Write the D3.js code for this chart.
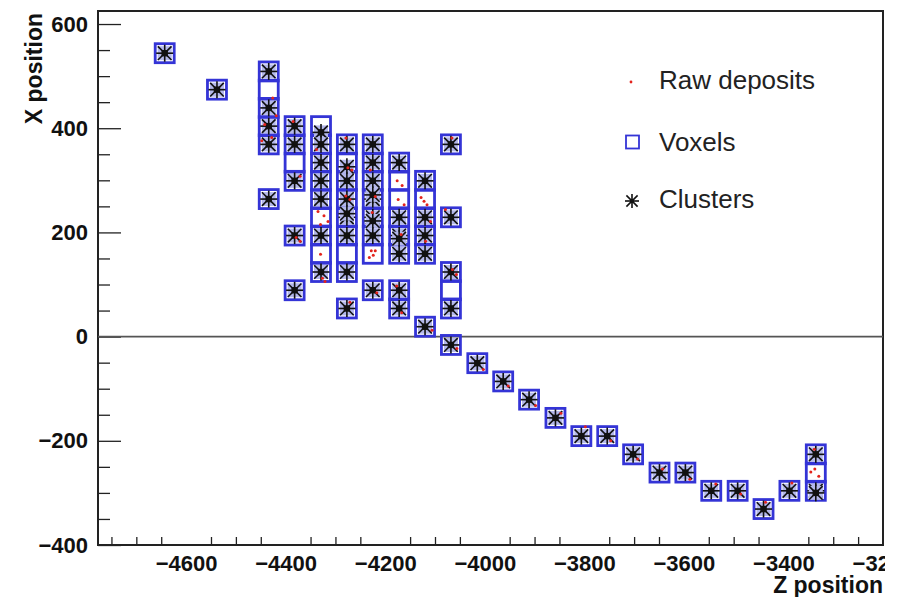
<!DOCTYPE html>
<html>
<head>
<meta charset="utf-8">
<script src="https://cdn.jsdelivr.net/npm/d3@7"></script>
<style>
  body { margin: 0; background: #fff; }
  svg { display: block; }
  text { font-family: "Liberation Sans", Arial, Helvetica, sans-serif; }
</style>
</head>
<body>
<svg id="chart" width="899" height="597"></svg>
<script>
// Axis ticks
const zMajorTicks = [-4600, -4400, -4200, -4000, -3800, -3600, -3400, -3200];
const xMajorTicks = [-400, -200, 0, 200, 400, 600];

// Voxel centres [z, x]
const voxels = [
  [-4643, 544],
  [-4538, 474],
  [-4434, 509], [-4434, 474], [-4434, 439], [-4434, 404], [-4434, 369], [-4434, 264],
  [-4382, 404], [-4382, 369], [-4382, 334], [-4382, 299], [-4382, 194], [-4382, 89],
  [-4329, 404], [-4329, 369], [-4329, 334], [-4329, 299], [-4329, 264], [-4329, 229], [-4329, 194], [-4329, 159], [-4329, 124],
  [-4277, 369], [-4277, 334], [-4277, 299], [-4277, 264], [-4277, 229], [-4277, 194], [-4277, 159], [-4277, 124], [-4277, 54],
  [-4225, 369], [-4225, 334], [-4225, 299], [-4225, 264], [-4225, 229], [-4225, 194], [-4225, 159], [-4225, 89],
  [-4172, 334], [-4172, 299], [-4172, 264], [-4172, 229], [-4172, 194], [-4172, 159], [-4172, 89], [-4172, 54],
  [-4120, 299], [-4120, 264], [-4120, 229], [-4120, 194], [-4120, 159], [-4120, 19],
  [-4068, 369], [-4068, 229], [-4068, 124], [-4068, 89], [-4068, 54], [-4068, -16],
  [-4015, -51], [-3963, -86], [-3911, -121], [-3858, -156], [-3806, -191], [-3754, -191],
  [-3702, -226], [-3649, -261], [-3597, -261], [-3545, -296], [-3492, -296], [-3440, -331],
  [-3388, -296],
  [-3335, -226], [-3335, -261], [-3335, -296]
];

// Cluster centroids [z, x]
const clusters = [
  [-4643, 544],
  [-4538, 474],
  [-4434, 509], [-4434, 439], [-4434, 404], [-4434, 369], [-4434, 264],
  [-4382, 404], [-4382, 369], [-4382, 299], [-4382, 194], [-4382, 89],
  [-4329, 392], [-4329, 369], [-4329, 334], [-4329, 299], [-4329, 264], [-4329, 194], [-4329, 124],
  [-4277, 369], [-4277, 326], [-4277, 299], [-4277, 264], [-4277, 229], [-4277, 236], [-4277, 194], [-4277, 124], [-4277, 54],
  [-4225, 369], [-4225, 334], [-4225, 299], [-4225, 264], [-4225, 272], [-4225, 229], [-4225, 222], [-4225, 194], [-4225, 89],
  [-4172, 334], [-4172, 229], [-4172, 194], [-4172, 188], [-4172, 159], [-4172, 89], [-4172, 54],
  [-4120, 299], [-4120, 229], [-4120, 194], [-4120, 159], [-4120, 19],
  [-4068, 369], [-4068, 229], [-4068, 124], [-4068, 54], [-4068, -16],
  [-4015, -51], [-3963, -86], [-3911, -121], [-3858, -156], [-3806, -191], [-3754, -191],
  [-3702, -226], [-3649, -261], [-3597, -261], [-3545, -296], [-3492, -296], [-3440, -331],
  [-3388, -296],
  [-3335, -226], [-3335, -296], [-3335, -300]
];

// Raw energy deposits [z, x]
const rawDeposits = [
  [-4426, 458], [-4442, 407], [-4428, 382], [-4448, 376], [-4419, 424],
  [-4385, 413], [-4371, 308], [-4371, 183], [-4379, 190],
  [-4335, 240], [-4323, 232], [-4315, 221], [-4330, 215], [-4330, 158], [-4321, 106], [-4326, 112], [-4338, 359],
  [-4271, 263], [-4279, 270], [-4267, 320], [-4275, 324], [-4279, 381], [-4271, 66],
  [-4228, 165], [-4224, 156], [-4232, 152], [-4220, 165], [-4230, 320], [-4220, 269], [-4226, 238], [-4217, 84],
  [-4176, 299], [-4166, 290], [-4174, 263], [-4162, 253], [-4177, 97], [-4167, 46], [-4168, 196],
  [-4128, 267], [-4116, 253], [-4122, 260], [-4109, 221], [-4119, 183], [-4106, 12],
  [-4065, 129], [-4057, 119], [-4066, 381], [-4079, 244], [-4056, -23],
  [-4003, -63], [-3953, -95], [-3898, -132], [-3847, -147], [-3798, -173], [-3747, -200],
  [-3693, -235], [-3643, -254], [-3588, -274], [-3536, -283], [-3486, -302], [-3436, -318],
  [-3383, -281], [-3338, -216], [-3337, -254], [-3329, -268], [-3345, -260]
];

const legendLabels = ["Raw deposits", "Voxels", "Clusters"];

// ---------------------------------------------------------------------------
const svg = d3.select("#chart");
const frame = { left: 98, right: 883, top: 11, bottom: 545 };

const zScale = d3.scaleLinear().domain([-4777, -3200]).range([frame.left, frame.right]);
const xScale = d3.scaleLinear().domain([-400, 625]).range([frame.bottom, frame.top]);

const blue = "#3434d6";
const axisColor = "#222";

// The canvas ends just past the frame, so the last z label is clipped
svg.append("defs").append("clipPath").attr("id", "canvas-clip")
  .append("rect").attr("x", 0).attr("y", 0).attr("width", 885).attr("height", 597);

// Minor ticks every 50 units
const zMinor = d3.range(-4750, -3200, 50).filter(v => v % 200 !== 0);
const xMinor = d3.range(-350, 625, 50).filter(v => v % 200 !== 0);

// Bottom axis (ticks pointing into the frame)
const gz = svg.append("g").attr("transform", `translate(0,${frame.bottom})`)
  .attr("clip-path", "url(#canvas-clip)");
gz.call(d3.axisBottom(zScale).tickValues(zMajorTicks).tickSizeInner(-16).tickSizeOuter(0).tickPadding(10).tickFormat(d3.format("d")));
const gzMinor = svg.append("g").attr("transform", `translate(0,${frame.bottom})`);
gzMinor.call(d3.axisBottom(zScale).tickValues(zMinor).tickSizeInner(-8).tickSizeOuter(0).tickFormat(""));

// Left axis
const gx = svg.append("g").attr("transform", `translate(${frame.left},0)`);
gx.call(d3.axisLeft(xScale).tickValues(xMajorTicks).tickSizeInner(-23).tickSizeOuter(0).tickPadding(10).tickFormat(d3.format("d")));
const gxMinor = svg.append("g").attr("transform", `translate(${frame.left},0)`);
gxMinor.call(d3.axisLeft(xScale).tickValues(xMinor).tickSizeInner(-12).tickSizeOuter(0).tickFormat(""));

[gz, gzMinor, gx, gxMinor].forEach(g => {
  g.select(".domain").remove();
  g.selectAll(".tick line").attr("stroke", axisColor).attr("stroke-width", 1.3);
});
[gz, gx].forEach(g => {
  g.selectAll(".tick text")
    .attr("fill", "#111")
    .style("font-size", "22px")
    .style("font-weight", "bold");
});

// Frame
svg.append("rect")
  .attr("x", frame.left).attr("y", frame.top)
  .attr("width", frame.right - frame.left).attr("height", frame.bottom - frame.top)
  .attr("fill", "none").attr("stroke", axisColor).attr("stroke-width", 2);

// x = 0 reference line
svg.append("line")
  .attr("x1", frame.left).attr("x2", frame.right)
  .attr("y1", xScale(0)).attr("y2", xScale(0))
  .attr("stroke", "#555").attr("stroke-width", 1.6);

// Axis titles
svg.append("text")
  .attr("transform", `translate(42,${frame.top + 2}) rotate(-90)`)
  .attr("text-anchor", "end")
  .style("font-size", "23px").style("font-weight", "bold").attr("fill", "#111")
  .text("X position");
svg.append("text")
  .attr("x", frame.right).attr("y", 593)
  .attr("text-anchor", "end")
  .style("font-size", "23px").style("font-weight", "bold").attr("fill", "#111")
  .text("Z position");

// Marker drawing helpers
const vox = 19;      // voxel marker side, px
function drawStar(g, r) {
  const d = r * 0.8;
  g.append("line").attr("x1", -r).attr("x2", r).attr("y1", 0).attr("y2", 0);
  g.append("line").attr("x1", 0).attr("x2", 0).attr("y1", -r).attr("y2", r);
  g.append("line").attr("x1", -d).attr("x2", d).attr("y1", -d).attr("y2", d);
  g.append("line").attr("x1", -d).attr("x2", d).attr("y1", d).attr("y2", -d);
}

// Voxels
svg.append("g").selectAll("rect")
  .data(voxels).join("rect")
  .attr("x", d => zScale(d[0]) - vox / 2)
  .attr("y", d => xScale(d[1]) - vox / 2)
  .attr("width", vox).attr("height", vox)
  .attr("fill", "none")
  .attr("stroke", blue).attr("stroke-width", 2.8);

// Clusters
const cg = svg.append("g").selectAll("g")
  .data(clusters).join("g")
  .attr("transform", d => `translate(${zScale(d[0])},${xScale(d[1])})`)
  .attr("stroke", "#111").attr("stroke-width", 1.6);
cg.append("rect")
  .attr("x", -7).attr("y", -7).attr("width", 14).attr("height", 14)
  .attr("fill", "#b4b8ea").attr("stroke", "none");
cg.each(function () { drawStar(d3.select(this), 8.5); });
cg.append("rect")
  .attr("x", -3.2).attr("y", -3.2).attr("width", 6.4).attr("height", 6.4)
  .attr("fill", "#111").attr("stroke", "none");

// Raw deposits
svg.append("g").selectAll("circle")
  .data(rawDeposits).join("circle")
  .attr("cx", d => zScale(d[0]))
  .attr("cy", d => xScale(d[1]))
  .attr("r", 1.5)
  .attr("fill", "#e3231c");

// Legend
const legend = svg.append("g");
const legendY = [80, 142, 199];
const legendTextX = 659;
legendLabels.forEach((label, i) => {
  legend.append("text")
    .attr("x", legendTextX).attr("y", legendY[i])
    .attr("dy", "0.35em")
    .style("font-size", "26px").attr("fill", "#222")
    .text(label);
});
legend.append("circle").attr("cx", 631).attr("cy", legendY[0] + 2).attr("r", 1.4).attr("fill", "#e3231c");
legend.append("rect").attr("x", 626).attr("y", legendY[1] - 6.5).attr("width", 13).attr("height", 13)
  .attr("fill", "none").attr("stroke", blue).attr("stroke-width", 1.8);
const ls = legend.append("g").attr("transform", `translate(632,${legendY[2] + 2})`)
  .attr("stroke", "#111").attr("stroke-width", 1.6);
drawStar(ls, 7);
ls.append("rect").attr("x", -2).attr("y", -2).attr("width", 4).attr("height", 4).attr("fill", "#111").attr("stroke", "none");
</script>
</body>
</html>
